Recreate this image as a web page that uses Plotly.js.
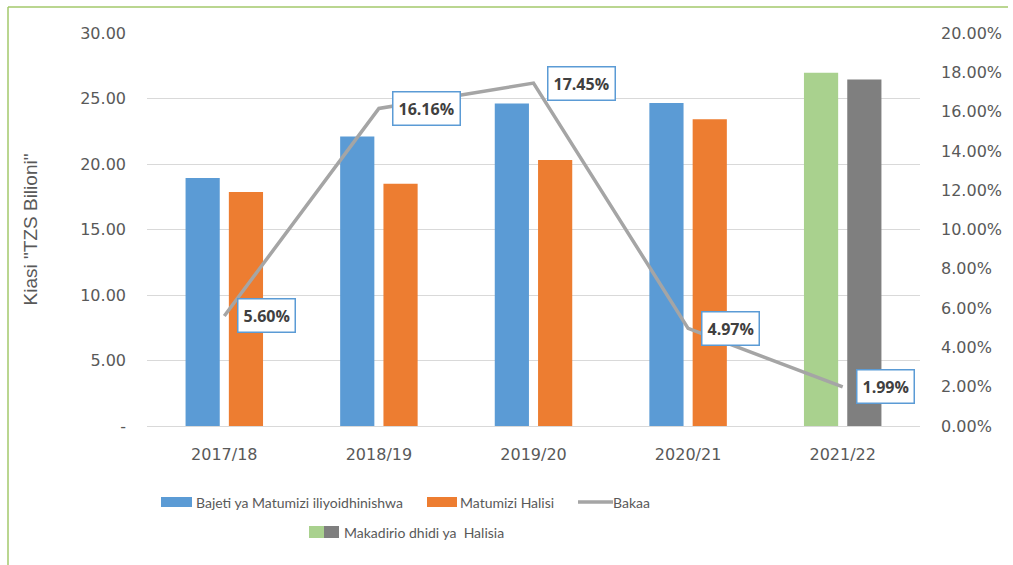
<!DOCTYPE html>
<html>
<head>
<meta charset="utf-8">
<script src="https://cdn.plot.ly/plotly-3.0.1.min.js"></script>
<style>html,body{margin:0;padding:0;background:#fff;}#chart{width:1013px;height:565px;}</style>
</head>
<body>
<div id="chart"></div>
<script>
// ---- data ----
var categories = ["2017/18", "2018/19", "2019/20", "2020/21", "2021/22"];
var bajeti = [18.93, 22.10, 24.62, 24.65, 26.97];     // Bajeti ya Matumizi iliyoidhinishwa (TZS Bilioni)
var matumizi = [17.87, 18.50, 20.30, 23.42, 26.45];   // Matumizi Halisi (TZS Bilioni)
var bakaa = [5.60, 16.16, 17.45, 4.97, 1.99];         // Bakaa (%)
var bakaaLabels = ["5.60%", "16.16%", "17.45%", "4.97%", "1.99%"];
var leftTickVals = [0, 5, 10, 15, 20, 25, 30];
var leftTickText = ["-", "5.00", "10.00", "15.00", "20.00", "25.00", "30.00"];
var rightTickVals = [0, 2, 4, 6, 8, 10, 12, 14, 16, 18, 20];
var rightTickText = ["0.00%", "2.00%", "4.00%", "6.00%", "8.00%", "10.00%", "12.00%", "14.00%", "16.00%", "18.00%", "20.00%"];
var legendNames = ["Bajeti ya Matumizi iliyoidhinishwa", "Matumizi Halisi", "Bakaa", "Makadirio dhidi ya  Halisia"];
var yTitle = 'Kiasi "TZS Bilioni"';

// ---- styles ----
var cBlue = "#5b9bd5", cOrange = "#ed7d31", cGreen = "#a9d18e", cGray = "#7f7f7f", cLine = "#a5a5a5";
var projIndex = 4; // last category drawn in projection colours
var blueColors = categories.map(function (c, i) { return i === projIndex ? cGreen : cBlue; });
var orangeColors = categories.map(function (c, i) { return i === projIndex ? cGray : cOrange; });

var W = 1013, H = 565;
var M = {l: 147, r: 93, t: 33, b: 139};
var pw = W - M.l - M.r, ph = H - M.t - M.b;
function px(x) { return (x - M.l) / pw; }
function py(y) { return (H - M.b - y) / ph; }

var tickFont = {family: "DejaVu Sans, sans-serif", size: 16, color: "#595959"};
var legFont = {family: "Lato, Roboto, Liberation Sans, sans-serif", size: 14, color: "#595959"};

var traces = [
  {type: "bar", x: categories, y: bajeti, name: legendNames[0], marker: {color: blueColors}, showlegend: false, hoverinfo: "x+y"},
  {type: "bar", x: categories, y: matumizi, name: legendNames[1], marker: {color: orangeColors}, showlegend: false, hoverinfo: "x+y"},
  {type: "scatter", mode: "lines", x: categories, y: bakaa, yaxis: "y2", name: legendNames[2],
   line: {color: cLine, width: 3.5}, showlegend: false, hoverinfo: "x+y"}
];

var annotations = categories.map(function (c, i) {
  return {
    x: c, y: bakaa[i], xref: "x", yref: "y2", text: bakaaLabels[i],
    showarrow: false, xanchor: "left", yanchor: "middle", xshift: 13,
    font: {family: "Open Sans, sans-serif", size: 16, color: "#404040", weight: "bold"},
    bgcolor: "#ffffff", bordercolor: cBlue, borderwidth: 1.5, borderpad: 5
  };
});

// manual legend (wide swatches as in the reference)
var shapes = [];
function rect(x0, x1, y0, y1, color) {
  shapes.push({type: "rect", xref: "paper", yref: "paper", x0: px(x0), x1: px(x1), y0: py(y1), y1: py(y0),
    fillcolor: color, line: {width: 0}});
}
function legText(x, y, t, font) {
  annotations.push({xref: "paper", yref: "paper", x: px(x), y: py(y), text: t, showarrow: false,
    xanchor: "left", yanchor: "middle", font: font});
}
rect(161, 192, 497, 507, cBlue);
legText(194, 502, legendNames[0], legFont);
rect(427, 457, 497, 507, cOrange);
legText(458, 502, legendNames[1], legFont);
shapes.push({type: "line", xref: "paper", yref: "paper", x0: px(578), x1: px(613), y0: py(502), y1: py(502),
  line: {color: cLine, width: 3.5}});
legText(611, 502, legendNames[2], legFont);
rect(309, 324, 526, 538, cGreen);
rect(324, 339, 526, 538, cGray);
legText(342, 532, legendNames[3], {family: legFont.family, size: 14, color: "#595959"});

// outer frame (top and left, as in the reference)
shapes.push({type: "line", xref: "paper", yref: "paper", x0: px(8), x1: px(1008), y0: py(7), y1: py(7),
  line: {color: "#a3c96b", width: 1.5}});
shapes.push({type: "line", xref: "paper", yref: "paper", x0: px(8), x1: px(8), y0: py(7), y1: py(566),
  line: {color: "#a3c96b", width: 1.5}});

var layout = {
  width: W, height: H,
  margin: M,
  paper_bgcolor: "#ffffff", plot_bgcolor: "#ffffff",
  barmode: "group", bargap: 0.44, bargroupgap: 0.21,
  showlegend: false,
  xaxis: {type: "category", showgrid: false, showline: true, linecolor: "#d9d9d9", linewidth: 1,
    ticks: "", tickfont: tickFont, ticklabelstandoff: 14, fixedrange: true},
  yaxis: {range: [0, 30], tickvals: leftTickVals, ticktext: leftTickText, showgrid: true, gridcolor: "#d9d9d9",
    gridwidth: 1, zeroline: false, showline: false, ticks: "", tickfont: tickFont, ticklabelstandoff: 20,
    title: {text: yTitle, font: {family: "Liberation Sans, Arial, sans-serif", size: 19, color: "#595959"}, standoff: 37},
    fixedrange: true},
  yaxis2: {range: [0, 20], tickvals: rightTickVals, ticktext: rightTickText, overlaying: "y", side: "right",
    showgrid: false, zeroline: false, showline: false, ticks: "", tickfont: tickFont, ticklabelstandoff: 20,
    fixedrange: true},
  shapes: shapes,
  annotations: annotations,
  font: {family: "DejaVu Sans, sans-serif", color: "#595959"}
};

Plotly.newPlot("chart", traces, layout, {displayModeBar: false, staticPlot: true});
</script>
</body>
</html>
